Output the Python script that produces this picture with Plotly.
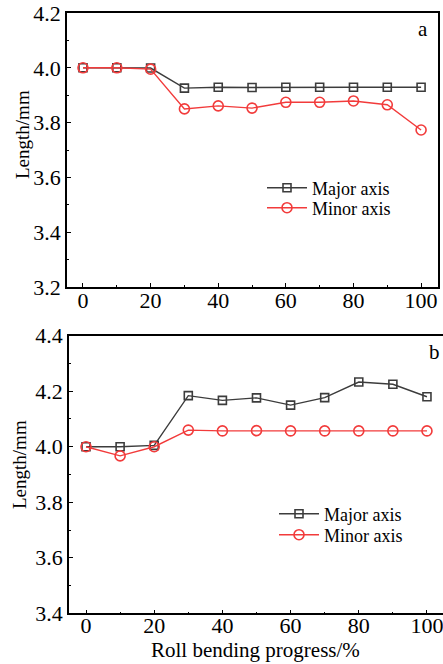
import plotly.graph_objects as go

# Roll bending progress (%)
progress = [0, 10, 20, 30, 40, 50, 60, 70, 80, 90, 100]

# Panel a
a_major = [4.000, 4.000, 3.999, 3.926, 3.929, 3.928, 3.929, 3.929, 3.929, 3.929, 3.929]
a_minor = [4.000, 4.000, 3.995, 3.850, 3.861, 3.853, 3.874, 3.874, 3.879, 3.865, 3.773]

# Panel b
b_major = [4.000, 4.000, 4.005, 4.184, 4.167, 4.176, 4.150, 4.177, 4.233, 4.225, 4.180]
b_minor = [4.000, 3.967, 4.000, 4.060, 4.057, 4.058, 4.057, 4.057, 4.057, 4.057, 4.057]

W, H = 443, 664
FONT = "Liberation Serif, Times New Roman, serif"
GRAY = "#3c3c3c"
RED = "#f23b3b"

fig = go.Figure()


def add_pair(major, minor, xa, ya, leg_major, leg_minor):
    fig.add_trace(go.Scatter(
        x=progress, y=major, name="Major axis", mode="lines+markers",
        xaxis=xa, yaxis=ya, legend=leg_major,
        line=dict(color=GRAY, width=1.4),
        marker=dict(symbol="square-open", size=8, color=GRAY, line=dict(width=1.6)),
    ))
    fig.add_trace(go.Scatter(
        x=progress, y=minor, name="Minor axis", mode="lines+markers",
        xaxis=xa, yaxis=ya, legend=leg_minor,
        line=dict(color=RED, width=1.4),
        marker=dict(symbol="circle-open", size=10, color=RED, line=dict(width=1.6)),
    ))


add_pair(a_major, a_minor, "x", "y", "legend", "legend2")
add_pair(b_major, b_minor, "x2", "y2", "legend3", "legend4")

axis_common = dict(
    showline=True, linecolor="black", linewidth=1.5, mirror=True,
    ticks="inside", ticklen=4, tickwidth=1.2, tickcolor="black",
    showgrid=False, zeroline=False, automargin=False,
    ticklabeloverflow="allow",
    tickfont=dict(family=FONT, size=22, color="black"),
)
x_minor = dict(ticks="inside", tickvals=[10, 30, 50, 70, 90], ticklen=2, tickcolor="black")
y_minor = dict(ticks="inside", dtick=0.1, ticklen=2.5, tickcolor="black")


def legend_at(x_px, y_px):
    return dict(x=x_px / W, y=1 - y_px / H, xanchor="left", yanchor="middle",
                bgcolor="rgba(0,0,0,0)", font=dict(family=FONT, size=18),
                itemwidth=40, tracegroupgap=0)


def label(text, x_px, y_px, size, angle=0):
    return dict(text=text, x=x_px / W, y=1 - y_px / H, xref="paper", yref="paper",
                xanchor="center", yanchor="middle", textangle=angle,
                showarrow=False, font=dict(family=FONT, size=size, color="black"))


fig.update_layout(
    width=W, height=H,
    margin=dict(l=0, r=0, t=0, b=0),
    paper_bgcolor="white", plot_bgcolor="white",
    font=dict(family=FONT, color="black"),
    showlegend=True,
    xaxis=dict(domain=[67 / W, 438 / W], range=[-4.73, 105.0], anchor="y",
               tickvals=[0, 20, 40, 60, 80, 100], minor=x_minor,
               ticklabelstandoff=-7, **axis_common),
    yaxis=dict(domain=[1 - 287 / H, 1 - 13 / H], range=[3.2, 4.2], anchor="x",
               tickvals=[3.2, 3.4, 3.6, 3.8, 4.0, 4.2], tickformat=".1f", minor=y_minor,
               **axis_common),
    xaxis2=dict(domain=[69 / W, 1.0], range=[-4.99, 104.7], anchor="y2",
                tickvals=[0, 20, 40, 60, 80, 100], minor=x_minor,
                ticklabelstandoff=-8, **axis_common),
    yaxis2=dict(domain=[1 - 613.3 / H, 1 - 335.7 / H], range=[3.4, 4.4], anchor="x2",
                tickvals=[3.4, 3.6, 3.8, 4.0, 4.2, 4.4], tickformat=".1f", minor=y_minor,
                **axis_common),
    legend=legend_at(262, 188),
    legend2=legend_at(262, 208),
    legend3=legend_at(274, 514),
    legend4=legend_at(274, 535),
    annotations=[
        label("a", 423, 29, 21),
        label("b", 434, 352, 21),
        label("Length/mm", 23, 135, 19, -90),
        label("Length/mm", 19, 465, 19, -90),
        label("Roll bending progress/%", 256, 650, 21),
    ],
)

fig.write_html("out.html")
